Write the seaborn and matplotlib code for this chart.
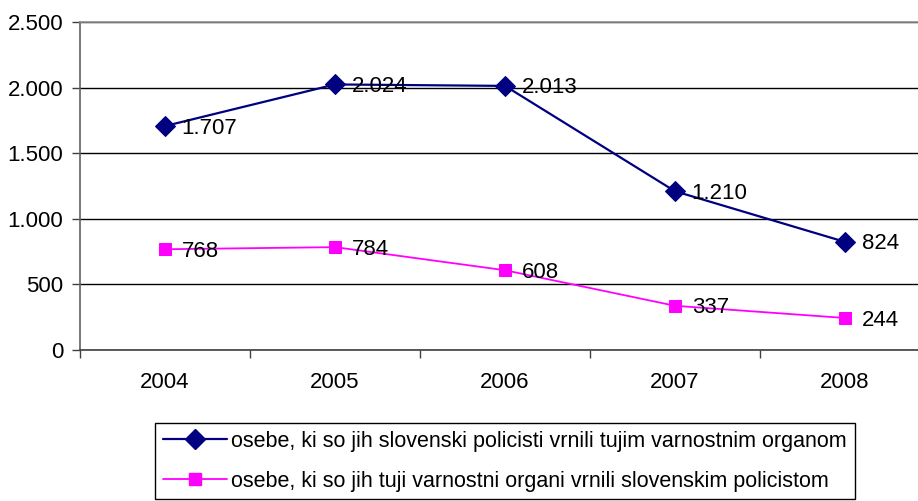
import matplotlib
matplotlib.use("Agg")
import matplotlib.pyplot as plt
import seaborn as sns
import pandas as pd
from matplotlib.lines import Line2D

# Data
years = [2004, 2005, 2006, 2007, 2008]
vrnili_tujim = [1707, 2024, 2013, 1210, 824]
vrnili_slovenskim = [768, 784, 608, 337, 244]
label_tujim = "osebe, ki so jih slovenski policisti vrnili tujim varnostnim organom"
label_slovenskim = "osebe, ki so jih tuji varnostni organi vrnili slovenskim policistom"

df = pd.DataFrame({"leto": years, "tujim": vrnili_tujim, "slovenskim": vrnili_slovenskim})

sns.set_theme(style="white")
plt.rcParams["font.family"] = ["Liberation Sans", "DejaVu Sans"]
plt.rcParams["text.color"] = "black"
plt.rcParams["xtick.color"] = "black"
plt.rcParams["ytick.color"] = "black"

def fmt(v):
    return f"{v:,}".replace(",", ".")

fig = plt.figure(figsize=(9.18, 5.01), dpi=100)
# plot area is cropped on the right in the original image
ax = fig.add_axes([80 / 918, 151 / 501, 850 / 918, 328 / 501])

navy = "#000080"
magenta = "#FF00FF"

sns.lineplot(data=df, x="leto", y="tujim", ax=ax, color=navy, lw=1.6,
             marker="D", markersize=10, markeredgecolor=navy)
sns.lineplot(data=df, x="leto", y="slovenskim", ax=ax, color=magenta, lw=1.3,
             marker="s", markersize=8.5, markeredgecolor=magenta)

# data labels
for x, v in zip(df["leto"], df["tujim"]):
    ax.annotate(fmt(v), (x, v), xytext=(12, -1.5), textcoords="offset points",
                va="center", ha="left", fontsize=16, color="black")
for x, v in zip(df["leto"], df["slovenskim"]):
    ax.annotate(fmt(v), (x, v), xytext=(12, -1.5), textcoords="offset points",
                va="center", ha="left", fontsize=16, color="black")

ax.set_xlim(2003.5, 2008.5)
ax.set_ylim(0, 2500)
ax.set_yticks(range(0, 2501, 500))
ax.set_yticklabels([fmt(t) for t in range(0, 2501, 500)], fontsize=16)
ax.set_xticks(years)
ax.set_xticklabels([str(y) for y in years], fontsize=16)
ax.set_xticks([y + 0.5 for y in [2003] + years], minor=True)
ax.tick_params(axis="x", which="major", length=0, pad=16, labelcolor="black")
ax.tick_params(axis="x", which="minor", length=6, width=1, color="#404040", bottom=True)
ax.tick_params(axis="y", which="major", length=6, width=1, color="#404040", left=True, pad=6,
               labelcolor="black")
ax.set_xlabel("")
ax.set_ylabel("")

ax.grid(axis="y", color="black", lw=1)
ax.grid(axis="x", visible=False)
ax.set_axisbelow(True)
ax.spines["top"].set_color("#909090")
ax.spines["right"].set_visible(False)
ax.spines["left"].set_color("#606060")
ax.spines["bottom"].set_color("#404040")
for s in ax.spines.values():
    s.set_linewidth(1.2)

handles = [
    Line2D([], [], color=navy, lw=1.6, marker="D", markersize=10),
    Line2D([], [], color=magenta, lw=1.3, marker="s", markersize=8.5),
]
leg = fig.legend(handles, [label_tujim, label_slovenskim], loc="upper left",
                 bbox_to_anchor=(155 / 918, 1 - 423 / 501), fontsize=15.5,
                 frameon=True, fancybox=False, edgecolor="black", framealpha=1,
                 handlelength=3.0, handletextpad=0.2, labelspacing=0.9,
                 borderpad=0.35, borderaxespad=0, labelcolor="black")
leg.get_frame().set_linewidth(1)

fig.savefig("out.png", dpi=100)
